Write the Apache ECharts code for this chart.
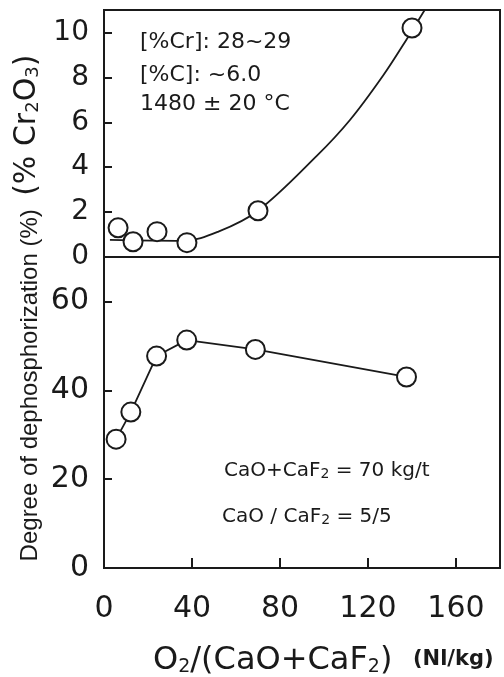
<!DOCTYPE html>
<html>
<head>
<meta charset="utf-8">
<script src="https://cdn.jsdelivr.net/npm/echarts@6/dist/echarts.min.js"></script>
<style>
  html, body { margin: 0; padding: 0; background: #fff; }
  #chart { width: 504px; height: 677px; }
</style>
</head>
<body>
<div id="chart"></div>
<script>
// values
const crX = [6.4, 13.2, 24.1, 37.7, 70, 140];
const cr2o3 = [1.3, 0.68, 1.13, 0.64, 2.06, 10.2];
const dpX = [5.5, 12.2, 23.9, 37.6, 68.8, 137.5];
const dephos = [29.0, 35.1, 47.7, 51.3, 49.2, 43.0];
// hand-drawn trend curve through the Cr2O3 points
const fitX = [2.7, 36, 52, 70, 96.7, 111.8, 126.8, 137.6, 147];
const fitY = [0.76, 0.72, 1.13, 2.06, 4.5, 6.1, 8.07, 9.7, 11.2];
const xTicks = [0, 40, 80, 120, 160];

const ink = '#1a1a1a';
const numFont = 'DejaVu Sans';

const chart = echarts.init(document.getElementById('chart'));

const pairs = (xs, ys) => xs.map((x, i) => [x, ys[i]]);

const baseX = {
  type: 'value', min: 0, max: 180, interval: 40,
  splitLine: { show: false },
  axisLine: { show: true, lineStyle: { color: ink, width: 2 } }
};

const sub = (big, small, lh) => ({
  m: { fontFamily: 'DejaVu Sans', fontSize: big, lineHeight: lh, verticalAlign: 'bottom' },
  s: { fontFamily: 'DejaVu Sans', fontSize: small, lineHeight: 10, verticalAlign: 'bottom' }
});

const option = {
  animation: false,
  backgroundColor: '#fff',
  grid: [
    { left: 104, right: 4, top: 10, height: 247, show: true, borderColor: ink, borderWidth: 2 },
    { left: 104, right: 4, top: 257, height: 311, show: true, borderColor: ink, borderWidth: 2 }
  ],
  xAxis: [
    Object.assign({}, baseX, { gridIndex: 0, axisTick: { show: false }, axisLabel: { show: false } }),
    Object.assign({}, baseX, {
      gridIndex: 1,
      axisTick: { show: true, inside: true, length: 10, lineStyle: { color: ink, width: 2 } },
      axisLabel: {
        color: ink, fontFamily: numFont, fontSize: 30, margin: 26, showMaxLabel: false,
        formatter: v => xTicks.indexOf(v) >= 0 ? String(v) : ''
      }
    })
  ],
  yAxis: [
    {
      type: 'value', gridIndex: 0, min: 0, max: 11, interval: 2,
      splitLine: { show: false },
      axisLine: { show: true, lineStyle: { color: ink, width: 2 } },
      axisTick: { show: true, inside: true, length: 8, lineStyle: { color: ink, width: 2 } },
      axisLabel: { color: ink, fontFamily: numFont, fontSize: 28, margin: 15, showMaxLabel: false }
    },
    {
      type: 'value', gridIndex: 1, min: 0, max: 70, interval: 20,
      splitLine: { show: false },
      axisLine: { show: true, lineStyle: { color: ink, width: 2 } },
      axisTick: { show: true, inside: true, length: 8, lineStyle: { color: ink, width: 2 } },
      axisLabel: { color: ink, fontFamily: numFont, fontSize: 30, margin: 15, showMaxLabel: false }
    }
  ],
  series: [
    {
      name: 'fit', type: 'line', xAxisIndex: 0, yAxisIndex: 0,
      data: pairs(fitX, fitY), smooth: 0.35, showSymbol: false, clip: true,
      lineStyle: { color: ink, width: 1.8 }, z: 2
    },
    {
      name: 'Cr2O3', type: 'scatter', xAxisIndex: 0, yAxisIndex: 0,
      data: pairs(crX, cr2o3), symbol: 'circle', symbolSize: 19,
      itemStyle: { color: '#fff', borderColor: ink, borderWidth: 2, opacity: 1 }, z: 3
    },
    {
      name: 'dephos', type: 'line', xAxisIndex: 1, yAxisIndex: 1,
      data: pairs(dpX, dephos), symbol: 'circle', symbolSize: 19, showAllSymbol: true,
      lineStyle: { color: ink, width: 1.8 },
      itemStyle: { color: '#fff', borderColor: ink, borderWidth: 2 }, z: 3
    }
  ],
  graphic: [
    {
      type: 'text', left: 140, top: 31,
      style: { text: '[%Cr]: 28~29', font: '22px "DejaVu Sans"', fill: ink }
    },
    {
      type: 'text', left: 140, top: 64,
      style: { text: '[%C]: ~6.0', font: '22px "DejaVu Sans"', fill: ink }
    },
    {
      type: 'text', left: 140, top: 93,
      style: { text: '1480 ± 20 °C', font: '22px "DejaVu Sans"', fill: ink }
    },
    {
      type: 'text', left: 224, top: 461,
      style: { text: '{m|CaO+CaF}{s|2}{m| = 70 kg/t}', fill: ink, rich: sub(20, 14, 24) }
    },
    {
      type: 'text', left: 222, top: 507,
      style: { text: '{m|CaO / CaF}{s|2}{m| = 5/5}', fill: ink, rich: sub(20, 14, 24) }
    },
    {
      type: 'text', left: 153, top: 645,
      style: { text: '{m|O}{s|2}{m|/(CaO+CaF}{s|2}{m|)}', fill: ink, rich: sub(32, 19, 36) }
    },
    {
      type: 'text', x: 413, y: 660,
      style: {
        text: '(Nl/kg)', font: 'bold 21px "DejaVu Sans"', fill: ink,
        align: 'left', verticalAlign: 'middle'
      }
    },
    {
      type: 'text', x: 26, y: 308, rotation: Math.PI / 2,
      style: {
        text: '{a|Degree of dephosphorization (%)}{g|  }{b|(% Cr}{s|2}{b|O}{s|3}{b|)}',
        fill: ink, align: 'center', verticalAlign: 'middle',
        rich: {
          a: { fontFamily: 'Liberation Sans', fontSize: 24, lineHeight: 32, verticalAlign: 'bottom' },
          g: { fontFamily: 'Liberation Sans', fontSize: 24, lineHeight: 32, verticalAlign: 'bottom' },
          b: { fontFamily: 'DejaVu Sans', fontSize: 30, lineHeight: 32, verticalAlign: 'bottom' },
          s: { fontFamily: 'DejaVu Sans', fontSize: 18, lineHeight: 10, verticalAlign: 'bottom' }
        }
      }
    }
  ]
};

chart.setOption(option);
</script>
</body>
</html>
